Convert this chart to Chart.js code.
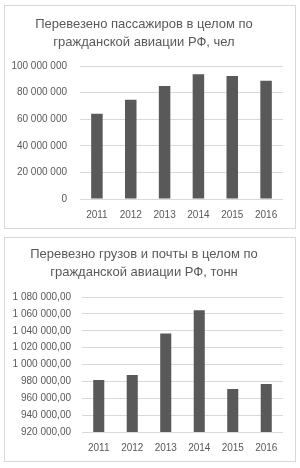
<!DOCTYPE html>
<html>
<head>
<meta charset="utf-8">
<script src="https://cdn.jsdelivr.net/npm/chart.js@4"></script>
<style>
  html, body { margin: 0; padding: 0; background: #fff; width: 300px; height: 468px; overflow: hidden; }
  .box { position: absolute; left: 4px; width: 290px; border: 1px solid #d9d9d9; }
  #box1 { top: 5px; height: 222px; }
  #box2 { top: 237px; height: 223px; }
  canvas { display: block; }
</style>
</head>
<body>
<div class="box" id="box1"><canvas id="paxChart" width="290" height="222"></canvas></div>
<div class="box" id="box2"><canvas id="cargoChart" width="290" height="223"></canvas></div>
<script>
const years = ['2011', '2012', '2013', '2014', '2015', '2016'];
const passengers = [64200000, 74600000, 85100000, 93900000, 92500000, 88900000];
const cargo = [981600, 987500, 1036900, 1064300, 971100, 976900];

const paxTitle = ['Перевезено пассажиров в целом по', 'гражданской авиации РФ, чел'];
const cargoTitle = ['Перевезно грузов и почты в целом по', 'гражданской авиации РФ, тонн'];

const gray = '#595959';
const font = 'Liberation Sans';

function spaced(n) {
  return String(n).replace(/\B(?=(\d{3})+(?!\d))/g, ' ');
}

function makeOptions(title, yMin, yMax, step, fmt, yWidth, tickPad, titlePad) {
  return {
    responsive: false,
    animation: false,
    layout: { padding: { left: 0, right: 12, top: 0, bottom: 0 } },
    plugins: {
      legend: { display: false },
      tooltip: { enabled: false },
      title: {
        display: true,
        text: title,
        color: gray,
        font: { family: font, size: 13, weight: 'normal', lineHeight: 1.35 },
        padding: titlePad
      }
    },
    scales: {
      x: {
        grid: { display: false, drawTicks: false },
        border: { display: false },
        ticks: { color: gray, font: { family: font, size: 10 }, padding: 10 },
        afterFit: (s) => { s.height = 29; }
      },
      y: {
        min: yMin,
        max: yMax,
        grid: { color: '#d9d9d9', drawTicks: false },
        border: { display: false },
        ticks: { stepSize: step, color: gray, font: { family: font, size: 10 }, padding: tickPad, callback: fmt },
        afterFit: (s) => { s.width = yWidth; }
      }
    }
  };
}

new Chart(document.getElementById('paxChart'), {
  type: 'bar',
  data: {
    labels: years,
    datasets: [{ data: passengers, backgroundColor: gray, categoryPercentage: 1, barPercentage: 0.34 }]
  },
  options: makeOptions(paxTitle, 0, 100000000, 20000000, (v) => spaced(v), 75, 13, { top: 10, bottom: 15 })
});

new Chart(document.getElementById('cargoChart'), {
  type: 'bar',
  data: {
    labels: years,
    datasets: [{ data: cargo, backgroundColor: gray, categoryPercentage: 1, barPercentage: 0.33 }]
  },
  options: makeOptions(cargoTitle, 920000, 1080000, 20000, (v) => spaced(v) + ',00', 77, 11, { top: 8, bottom: 16 })
});
</script>
</body>
</html>
